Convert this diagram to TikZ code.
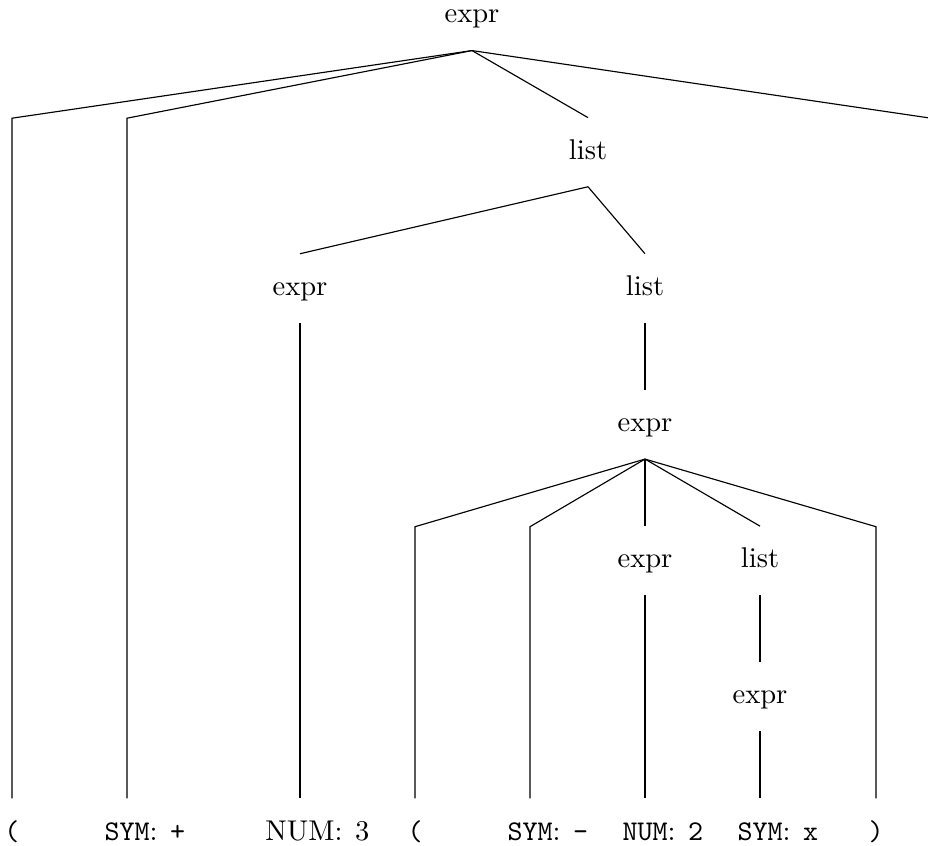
\documentclass[tikz,border=0pt]{standalone}
\begin{document}
\begin{tikzpicture}[x=0.35pt,y=-0.35pt,
  tn/.style={anchor=base,inner xsep=0pt,inner ysep=7.45pt,text height=6.9pt,text depth=2pt},
  edge/.style={line width=0.4pt}]
\useasboundingbox (0,0) rectangle (928,845);
% inner nodes
\node[tn] (root) at (472,23) {expr};
\node[tn] (l1) at (588,159.2) {list};
\node[tn] (e2) at (300,295.3) {expr};
\node[tn] (l2) at (645,295.3) {list};
\node[tn] (e3) at (645,431.5) {expr};
\node[tn] (e4) at (645,567.7) {expr};
\node[tn] (l4) at (760,567.7) {list};
\node[tn] (e5) at (760,703.8) {expr};
% leaves
\node[tn] (t1) at (12,840) {\texttt{(}};
\node[tn] (t2) at (127,840) {\texttt{SYM}\rlap{: \texttt{+}}};
\node[tn] (t3) at (300,840) {NUM\rlap{: 3}};
\node[tn] (t4) at (415,840) {\texttt{(}};
\node[tn] (t5) at (530,840) {\texttt{SYM}\rlap{: \texttt{-}}};
\node[tn] (t6) at (645,840) {\texttt{NUM}\rlap{: \texttt{2}}};
\node[tn] (t7) at (760,840) {\texttt{SYM}\rlap{: \texttt{x}}};
\node[tn] (t8) at (876,840) {\texttt{)}};
% bend points
\coordinate (c1) at (12,118.2);
\coordinate (c2) at (127,118.2);
\coordinate (c9) at (931,118.2);
\coordinate (c9b) at (931,799);
\coordinate (c4) at (415,526.7);
\coordinate (c5) at (530,526.7);
\coordinate (c8) at (876,526.7);
% edges
\draw[edge] (root.south) -- (c1) -- (t1.north);
\draw[edge] (root.south) -- (c2) -- (t2.north);
\draw[edge] (root.south) -- (l1.north);
\draw[edge] (root.south) -- (c9) -- (c9b);
\draw[edge] (l1.south) -- (e2.north);
\draw[edge] (l1.south) -- (l2.north);
\draw[edge] (e2.south) -- (t3.north);
\draw[edge] (l2.south) -- (e3.north);
\draw[edge] (e3.south) -- (c4) -- (t4.north);
\draw[edge] (e3.south) -- (c5) -- (t5.north);
\draw[edge] (e3.south) -- (e4.north);
\draw[edge] (e3.south) -- (l4.north);
\draw[edge] (e3.south) -- (c8) -- (t8.north);
\draw[edge] (e4.south) -- (t6.north);
\draw[edge] (l4.south) -- (e5.north);
\draw[edge] (e5.south) -- (t7.north);
\end{tikzpicture}
\end{document}
